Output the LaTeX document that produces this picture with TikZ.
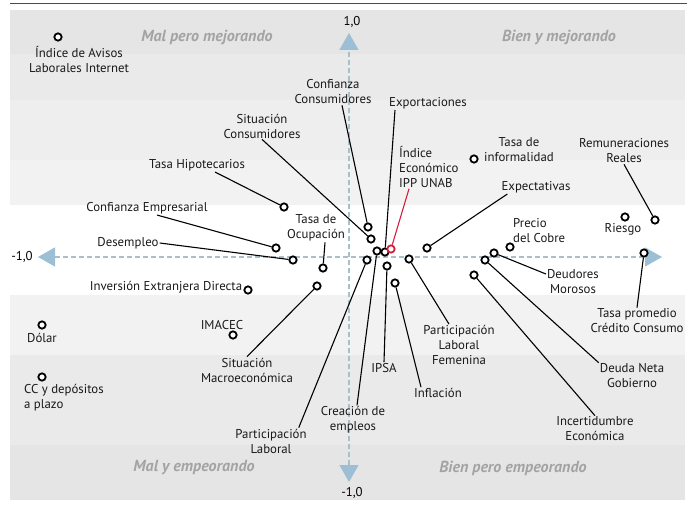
\documentclass[tikz,border=0pt]{standalone}
\usepackage{fontspec}
\setmainfont{PT Sans}
\usetikzlibrary{arrows.meta}
\definecolor{axisblue}{HTML}{9DBFD6}
\definecolor{dashgray}{HTML}{A9BFCA}
\definecolor{quadgray}{HTML}{A3A3A3}
\definecolor{ippred}{HTML}{D21F3C}
\definecolor{bandA}{HTML}{E5E5E5}
\definecolor{bandB}{HTML}{EAEAEA}
\definecolor{bandC}{HTML}{EEEEEE}
\definecolor{bandD}{HTML}{F2F2F2}
\begin{document}
\begin{tikzpicture}[x=1pt,y=-1pt,
    font=\fontsize{12.8}{15}\selectfont,
    dot/.style={circle,draw=black,fill=white,line width=1.8pt,inner sep=0pt,minimum size=7.3pt},
    lbl/.style={align=center,inner sep=1pt,text=black!90},
    lead/.style={line width=1.1pt},
    quad/.style={font=\fontsize{16}{18}\selectfont\bfseries\itshape,text=quadgray},
    axis/.style={dashgray,line width=1.3pt,dash pattern=on 5pt off 3pt,
        {Triangle[length=17pt,width=19pt,color=axisblue]}-{Triangle[length=17pt,width=19pt,color=axisblue]}}]
    \useasboundingbox (0,0) rectangle (697,505);
    % background bands
    \fill [bandA] (10,10) rectangle (685,54);
    \fill [bandB] (10,54) rectangle (685,100);
    \fill [bandC] (10,100) rectangle (685,160);
    \fill [bandD] (10,160) rectangle (685,205);
    \fill [bandD] (10,295) rectangle (685,355);
    \fill [bandB] (10,355) rectangle (685,445);
    \fill [bandA] (10,445) rectangle (685,500);
    \draw [line width=1pt,black!70] (10,4) -- (687,4);
    % axes
    \coordinate (xl) at (38,257);
    \coordinate (xr) at (662,257);
    \coordinate (yt) at (349,33);
    \coordinate (yb) at (349,482);
    \draw [axis] (xl) -- (xr);
    \draw [axis] (yb) -- (yt);
    \node (ytop) at (352,22) {1,0};
    \node (ybot) at (352,493) {-1,0};
    \node (xlft) at (22,257) {-1,0};
    \node [quad] (q1) at (207,37) {Mal pero mejorando};
    \node [quad] (q2) at (559,37) {Bien y mejorando};
    \node [quad] (q3) at (194,468) {Mal y empeorando};
    \node [quad] (q4) at (513,468) {Bien pero empeorando};
    % markers
    \foreach \n/\x/\y in {avisos/58/37, confcons/368/227, sitcons/371/239, export/385/252,
        creacion/377/251, expect/427/248, informal/474/159, remun/655/220, riesgo/625/217,
        precio/510/247, deudmor/494/253, deudaneta/485/260, incert/474/275, tasaprom/644/253,
        partfem/409/259, ipsa/387/266, inflacion/395/283, partlab/367/260, sitmacro/317/286,
        tasaocup/323/268, desempleo/293/260, confemp/276/248, tasahip/284/207, ied/248/290,
        imacec/233/335, dolar/42/325, cc/42/377}
        \node [dot] (\n) at (\x,\y) {};
    \node [dot,draw=ippred] (ipp) at (391,249) {};
    % labels
    \node [lbl] (l-avisos) at (79,60) {Índice de Avisos\\Laborales Internet};
    \node [lbl] (l-confcons) at (333,92) {Confianza\\Consumidores};
    \node [lbl] (l-export) at (428,103) {Exportaciones};
    \node [lbl,align=left,anchor=west] (l-ipp) at (398,167) {Índice\\Económico\\IPP UNAB};
    \node [lbl] (l-informal) at (519,150) {Tasa de\\informalidad};
    \node [lbl] (l-remun) at (624,151) {Remuneraciones\\Reales};
    \node [lbl] (l-expect) at (536,187) {Expectativas};
    \node [lbl] (l-riesgo) at (623,229) {Riesgo};
    \node [lbl,align=left,anchor=west] (l-precio) at (512,231) {Precio\\del Cobre};
    \node [lbl] (l-deudmor) at (573,282) {Deudores\\Morosos};
    \node [lbl] (l-deudaneta) at (632,376) {Deuda Neta\\Gobierno};
    \node [lbl] (l-incert) at (595,429) {Incertidumbre\\Económica};
    \node [lbl] (l-tasaprom) at (637,321) {Tasa promedio\\Crédito Consumo};
    \node [lbl] (l-partfem) at (459,345) {Participación\\Laboral\\Femenina};
    \node [lbl] (l-ipsa) at (384,368) {IPSA};
    \node [lbl] (l-inflacion) at (438,393) {Inflación};
    \node [lbl] (l-creacion) at (353,420) {Creación de\\empleos};
    \node [lbl] (l-partlab) at (271,441) {Participación\\Laboral};
    \node [lbl] (l-sitmacro) at (247,370) {Situación\\Macroeconómica};
    \node [lbl] (l-tasaocup) at (316,228) {Tasa de\\Ocupación};
    \node [lbl] (l-desempleo) at (128,243) {Desempleo};
    \node [lbl] (l-confemp) at (147,208) {Confianza Empresarial};
    \node [lbl] (l-tasahip) at (197,165) {Tasa Hipotecarios};
    \node [lbl] (l-sitcons) at (262,126) {Situación\\Consumidores};
    \node [lbl] (l-ied) at (166,287) {Inversión Extranjera Directa};
    \node [lbl] (l-imacec) at (222,325) {IMACEC};
    \node [lbl] (l-dolar) at (42,338) {Dólar};
    \node [lbl,align=left,anchor=west] (l-cc) at (23,398) {CC y depósitos\\a plazo};
    % leaders
    \draw [lead] ([xshift=9pt]l-confcons.south) -- (confcons);
    \draw [lead] ([xshift=7pt]l-export.south west) -- (export);
    \draw [lead,ippred] ([xshift=11pt]l-ipp.south west) -- (ipp);
    \draw [lead] (l-remun.south) -- (remun);
    \draw [lead] ([xshift=7pt]l-expect.south west) -- (expect);
    \draw [lead] ([yshift=8pt]l-deudmor.west) -- (deudmor);
    \draw [lead] (l-deudaneta.north west) -- (deudaneta);
    \draw [lead] (l-incert.north) -- (incert);
    \draw [lead] (l-tasaprom.north) -- (tasaprom);
    \draw [lead] ([xshift=-10pt]l-partfem.north) -- (partfem);
    \draw [lead] (l-ipsa.north) -- (ipsa);
    \draw [lead] ([xshift=8pt]l-inflacion.north west) -- (inflacion);
    \draw [lead] ([xshift=4pt]l-creacion.north) -- (creacion);
    \draw [lead] ([xshift=-9pt]l-partlab.north east) -- (partlab);
    \draw [lead] (l-sitmacro.north) -- (sitmacro);
    \draw [lead] ([xshift=9pt]l-tasaocup.south) -- (tasaocup);
    \draw [lead] (l-desempleo.east) -- (desempleo);
    \draw [lead] ([xshift=10pt]l-confemp.south) -- (confemp);
    \draw [lead] ([xshift=18pt]l-tasahip.south) -- (tasahip);
    \draw [lead] (l-sitcons.south) -- (sitcons);
\end{tikzpicture}
\end{document}
